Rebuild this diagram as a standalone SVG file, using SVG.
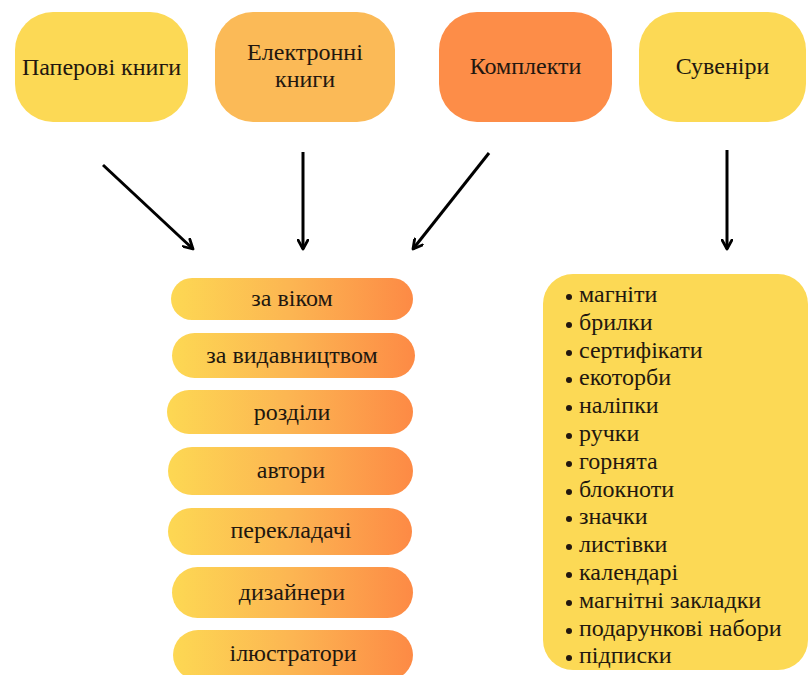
<svg xmlns="http://www.w3.org/2000/svg" width="808" height="675" viewBox="0 0 808 675">
<defs>
<linearGradient id="pill" x1="0" y1="0" x2="1" y2="0">
<stop offset="0" stop-color="#FDD853"/>
<stop offset="0.5" stop-color="#FCB552"/>
<stop offset="1" stop-color="#FD8A45"/>
</linearGradient>
<marker id="ah" viewBox="0 0 12 12" refX="10.5" refY="6" markerWidth="12" markerHeight="12" markerUnits="userSpaceOnUse" orient="auto">
<path d="M1.5,1 L10.5,6 L1.5,11" fill="none" stroke="#000" stroke-width="2.8" stroke-linecap="round" stroke-linejoin="round"/>
</marker>
<style>
text{font-family:"Liberation Serif","DejaVu Serif",serif;fill:#22170f;}
.top{font-size:24px;text-anchor:middle;}
.pt{font-size:24px;text-anchor:middle;}
.li{font-size:24px;}
.ar{stroke:#000;stroke-width:3;fill:none;marker-end:url(#ah);}
.bl{fill:#22170f;}
</style>
</defs>
<rect width="808" height="675" fill="#fff"/>
<g id="paper-books">
<rect x="15" y="12" width="173" height="110" rx="38" fill="#FCD955"/>
<text class="top" x="101.5" y="75">Паперові книги</text>
</g>
<g id="ebooks">
<rect x="215" y="12" width="180" height="110" rx="38" fill="#FBBA57"/>
<text class="top" x="305" y="60">Електронні</text>
<text class="top" x="305" y="87">книги</text>
</g>
<g id="sets">
<rect x="439" y="12" width="173" height="110" rx="38" fill="#FD8D48"/>
<text class="top" x="525.5" y="74">Комплекти</text>
</g>
<g id="souvenirs">
<rect x="639" y="12" width="167" height="110" rx="38" fill="#FCD955"/>
<text class="top" x="722.5" y="74">Сувеніри</text>
</g>
<g id="connectors">
<line class="ar" x1="103" y1="165" x2="193" y2="249"/>
<line class="ar" x1="303" y1="152" x2="303" y2="249"/>
<line class="ar" x1="489" y1="153" x2="413" y2="249"/>
<line class="ar" x1="727" y1="150" x2="727" y2="249"/>
</g>
<g id="by-age">
<rect x="171" y="278" width="242" height="42" rx="21" fill="url(#pill)"/>
<text class="pt" x="292" y="306">за віком</text>
</g>
<g id="by-publisher">
<rect x="172" y="333" width="243" height="45" rx="22.5" fill="url(#pill)"/>
<text class="pt" x="292" y="363">за видавництвом</text>
</g>
<g id="sections">
<rect x="167" y="390" width="246" height="44" rx="22" fill="url(#pill)"/>
<text class="pt" x="292" y="420">розділи</text>
</g>
<g id="authors">
<rect x="168" y="447" width="245" height="48" rx="24" fill="url(#pill)"/>
<text class="pt" x="291" y="478">автори</text>
</g>
<g id="translators">
<rect x="168" y="508" width="244" height="47" rx="23.5" fill="url(#pill)"/>
<text class="pt" x="291" y="538">перекладачі</text>
</g>
<g id="designers">
<rect x="172" y="567" width="241" height="51" rx="25.5" fill="url(#pill)"/>
<text class="pt" x="292" y="600">дизайнери</text>
</g>
<g id="illustrators">
<rect x="173" y="630" width="240" height="50" rx="25" fill="url(#pill)"/>
<text class="pt" x="293" y="661">ілюстратори</text>
</g>
<g id="souvenir-list">
<rect x="543" y="274" width="265" height="396" rx="30" fill="#FCD955"/>
<g class="bl">
<circle cx="569" cy="297" r="3"/>
<circle cx="569" cy="325" r="3"/>
<circle cx="569" cy="353" r="3"/>
<circle cx="569" cy="380" r="3"/>
<circle cx="569" cy="408" r="3"/>
<circle cx="569" cy="436" r="3"/>
<circle cx="569" cy="464" r="3"/>
<circle cx="569" cy="492" r="3"/>
<circle cx="569" cy="519" r="3"/>
<circle cx="569" cy="547" r="3"/>
<circle cx="569" cy="575" r="3"/>
<circle cx="569" cy="603" r="3"/>
<circle cx="569" cy="631" r="3"/>
<circle cx="569" cy="658" r="3"/>
</g>
<text class="li" x="579" y="302">магніти</text>
<text class="li" x="579" y="330">брилки</text>
<text class="li" x="579" y="358">сертифікати</text>
<text class="li" x="579" y="385">екоторби</text>
<text class="li" x="579" y="413">наліпки</text>
<text class="li" x="579" y="441">ручки</text>
<text class="li" x="579" y="469">горнята</text>
<text class="li" x="579" y="497">блокноти</text>
<text class="li" x="579" y="524">значки</text>
<text class="li" x="579" y="552">листівки</text>
<text class="li" x="579" y="580">календарі</text>
<text class="li" x="579" y="608">магнітні закладки</text>
<text class="li" x="579" y="636">подарункові набори</text>
<text class="li" x="579" y="663">підписки</text>
</g>
</svg>
